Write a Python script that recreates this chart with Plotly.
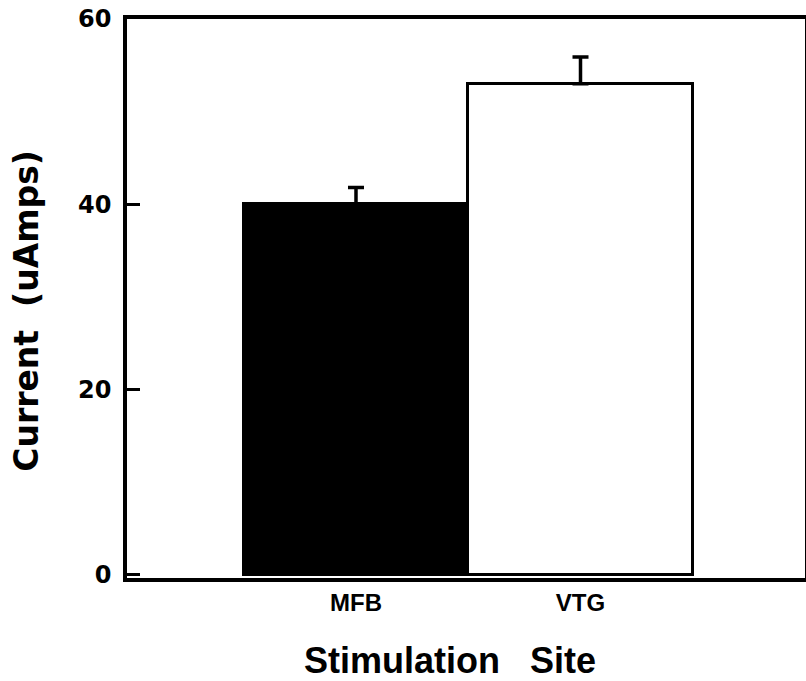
import plotly.graph_objects as go

categories = ["MFB", "VTG"]
values = [40, 53]
errors_up = [1.8, 2.9]
fills = ["black", "white"]
y_ticks = [0, 20, 40, 60]

fig = go.Figure()
fig.add_trace(go.Bar(
    x=categories, y=values,
    width=1.0,
    marker=dict(color=fills, line=dict(color="black", width=3)),
    error_y=dict(type="data", symmetric=False, array=errors_up,
                 arrayminus=[0, 0], color="black", thickness=3.5, width=8),
))

fig.update_layout(
    width=806, height=681,
    margin=dict(l=127, r=1, t=19, b=103),
    paper_bgcolor="white", plot_bgcolor="white",
    showlegend=False,
    bargap=0,
    annotations=[
        dict(text="Current\u00a0\u00a0(uAmps)", xref="paper", yref="paper",
             x=-0.1475, y=0.478, xanchor="center", yanchor="middle",
             textangle=-90, showarrow=False,
             font=dict(family="DejaVu Sans", size=33, color="black", weight="bold")),
        dict(text="Stimulation\u00a0\u00a0\u00a0Site", xref="paper", yref="paper",
             x=0.476, y=-0.1467, xanchor="center", yanchor="middle",
             showarrow=False,
             font=dict(family="Liberation Sans", size=36, color="black", weight="bold")),
    ],
)
fig.update_xaxes(
    type="category", range=[-1.02, 2.0], automargin=False,
    showline=True, mirror=True, linecolor="black", linewidth=3.5,
    ticks="", showgrid=False, zeroline=False,
    tickfont=dict(family="Liberation Sans", size=24, color="black", weight="bold"),
    ticklabelstandoff=0,
)
fig.update_yaxes(
    range=[-0.35, 60], tickvals=y_ticks, automargin=False,
    showline=True, mirror=True, linecolor="black", linewidth=3.5,
    ticks="inside", ticklen=13, tickwidth=3, tickcolor="black",
    showgrid=False, zeroline=False,
    tickfont=dict(family="DejaVu Sans", size=24, color="black", weight="bold"),
    ticklabelstandoff=7, ticklabeloverflow="allow",
)

fig.write_html("out.html",
               config={"displayModeBar": False},
               post_script="document.body.style.margin='0';document.body.style.overflow='hidden';")
